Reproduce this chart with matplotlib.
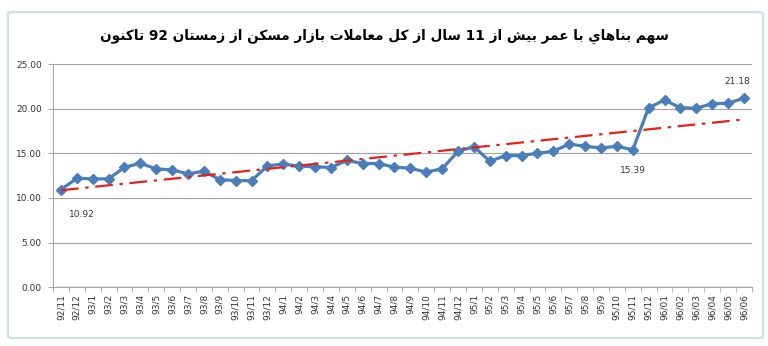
import re
import numpy as np
import matplotlib
matplotlib.use('Agg')
import matplotlib.pyplot as plt
from matplotlib.patches import FancyBboxPatch

# data
periods = ['92/11', '92/12'] + ['93/%d' % m for m in range(1, 13)] \
    + ['94/%d' % m for m in range(1, 13)] + ['95/%d' % m for m in range(1, 13)] \
    + ['96/%02d' % m for m in range(1, 7)]
share = [10.92, 12.20, 12.13, 12.13, 13.43, 13.88, 13.25, 13.14, 12.70, 12.98,
         12.05, 11.94, 11.94, 13.58, 13.80, 13.55, 13.50, 13.40, 14.20, 13.85,
         13.85, 13.44, 13.33, 12.89, 13.26, 15.22, 15.74, 14.11, 14.74, 14.74,
         15.00, 15.22, 16.04, 15.78, 15.60, 15.78, 15.39, 20.10, 20.96, 20.10,
         20.04, 20.56, 20.60, 21.18]
title_fa = 'سهم بناهاي با عمر بيش از 11 سال از كل معاملات بازار مسكن از زمستان 92 تاكنون'

# arabic shaping (matplotlib has no shaping / bidi of its own)
forms = {
    'ا': (0xFE8D, 0xFE8E, None, None), 'ب': (0xFE8F, 0xFE90, 0xFE91, 0xFE92),
    'ت': (0xFE95, 0xFE96, 0xFE97, 0xFE98), 'ر': (0xFEAD, 0xFEAE, None, None),
    'ز': (0xFEAF, 0xFEB0, None, None), 'س': (0xFEB1, 0xFEB2, 0xFEB3, 0xFEB4),
    'ش': (0xFEB5, 0xFEB6, 0xFEB7, 0xFEB8), 'ع': (0xFEC9, 0xFECA, 0xFECB, 0xFECC),
    'ك': (0xFED9, 0xFEDA, 0xFEDB, 0xFEDC), 'ل': (0xFEDD, 0xFEDE, 0xFEDF, 0xFEE0),
    'م': (0xFEE1, 0xFEE2, 0xFEE3, 0xFEE4), 'ن': (0xFEE5, 0xFEE6, 0xFEE7, 0xFEE8),
    'ه': (0xFEE9, 0xFEEA, 0xFEEB, 0xFEEC), 'و': (0xFEED, 0xFEEE, None, None),
    'ي': (0xFEF1, 0xFEF2, 0xFEF3, 0xFEF4),
}


def shape(text):
    chars = list(text.replace('لا', '\uE000'))
    out = []
    for i, c in enumerate(chars):
        prev = chars[i - 1] if i > 0 else ' '
        nxt = chars[i + 1] if i + 1 < len(chars) else ' '
        join_prev = prev in forms and forms[prev][2] is not None
        if c == '\uE000':
            out.append(chr(0xFEFC if join_prev else 0xFEFB))
            continue
        if c not in forms:
            out.append(c)
            continue
        iso, fin, ini, med = forms[c]
        join_next = ini is not None and (nxt in forms or nxt == '\uE000')
        if join_prev and join_next:
            out.append(chr(med))
        elif join_prev:
            out.append(chr(fin))
        elif join_next:
            out.append(chr(ini))
        else:
            out.append(chr(iso))
    s = ''.join(out)[::-1]
    return re.sub(r'\d+', lambda m: m.group(0)[::-1], s)


x = np.arange(len(periods))
slope, icpt = np.polyfit(x, share, 1)
trend = slope * x + icpt

fig = plt.figure(figsize=(7.68, 3.46), dpi=100)
frame = FancyBboxPatch((0.0104, 0.023), 0.983, 0.942, boxstyle='round,pad=0,rounding_size=0.006',
                       transform=fig.transFigure, facecolor='white', edgecolor='#c9e2e8',
                       lw=1.6, zorder=-5)
fig.patches.append(frame)

ax = fig.add_axes([0.069, 0.17, 0.91, 0.645])
ax.set_facecolor('none')

ax.plot(x, share, color='#4a7ebb', lw=2.3, marker='D', ms=5.2, zorder=3)
ax.plot(x, trend, color='#e2231a', lw=1.6, ls=(0, (8, 3, 1.5, 3)), zorder=4)

ax.set_ylim(0, 25)
ax.set_yticks(np.arange(0, 26, 5))
ax.set_yticklabels(['%.2f' % v for v in np.arange(0, 26, 5)], fontsize=6.5, color='#333333')
ax.yaxis.grid(True, color='#a6a6a6', lw=0.9)
ax.set_axisbelow(True)

ax.set_xlim(-0.5, len(periods) - 0.5)
ax.set_xticks(x)
ax.set_xticklabels(periods, rotation=90, fontsize=6.5, color='#333333')
ax.set_xticks(np.arange(-0.5, len(periods)), minor=True)
ax.tick_params(axis='x', which='major', length=0, pad=5)
ax.tick_params(axis='x', which='minor', length=3.5, color='#a6a6a6')
ax.tick_params(axis='y', length=3.5, color='#a6a6a6', pad=4.5)

for side in ['top', 'right']:
    ax.spines[side].set_visible(False)
for side in ['left', 'bottom']:
    ax.spines[side].set_color('#a6a6a6')

ax.annotate('%.2f' % share[0], (x[0], share[0]), xytext=(15, -20), textcoords='offset points',
            fontsize=6.5, color='#333333', ha='center')
ax.annotate('%.2f' % share[36], (x[36], share[36]), xytext=(0, -17), textcoords='offset points',
            fontsize=6.5, color='#333333', ha='center')
ax.annotate('%.2f' % share[-1], (x[-1], share[-1]), xytext=(-5, 10), textcoords='offset points',
            fontsize=6.5, color='#333333', ha='center')

fig.text(0.5, 0.895, shape(title_fa), ha='center', va='center', fontsize=9.8,
         fontweight='bold', family=['DejaVu Sans'])

fig.savefig('out.png', dpi=100, facecolor='white')
